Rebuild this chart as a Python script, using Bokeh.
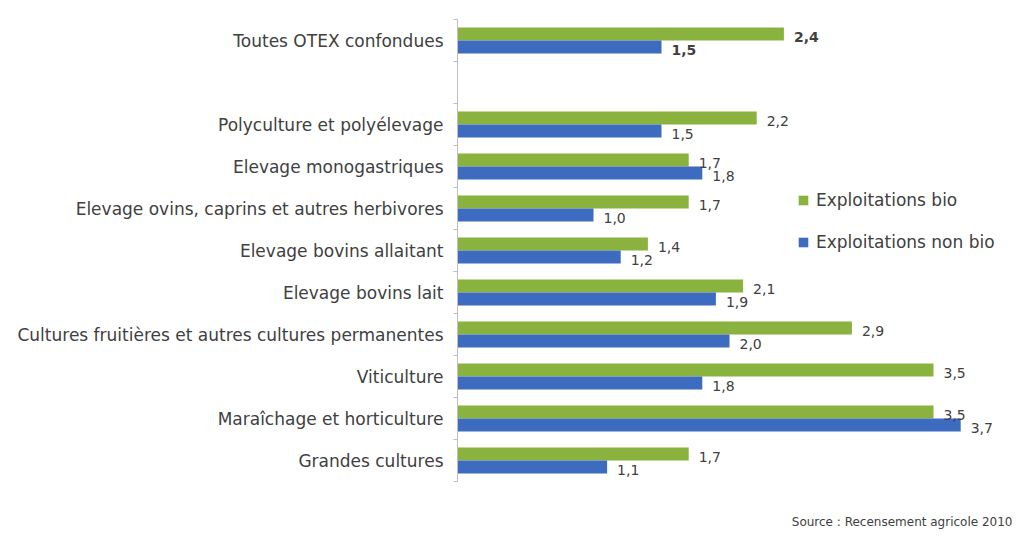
from bokeh.plotting import figure
from bokeh.models import (ColumnDataSource, FixedTicker, Legend, LegendItem, Label, Range1d)
from bokeh.core.properties import value
from bokeh.embed import file_html
from bokeh.resources import INLINE

# ---- data (top to bottom) ----
categories = ["Toutes OTEX confondues",
              "Polyculture et polyélevage",
              "Elevage monogastriques",
              "Elevage ovins, caprins et autres herbivores",
              "Elevage bovins allaitant",
              "Elevage bovins lait",
              "Cultures fruitières et autres cultures permanentes",
              "Viticulture",
              "Maraîchage et horticulture",
              "Grandes cultures"]
bio = [2.4, 2.2, 1.7, 1.7, 1.4, 2.1, 2.9, 3.5, 3.5, 1.7]
non_bio = [1.5, 1.5, 1.8, 1.0, 1.2, 1.9, 2.0, 1.8, 3.7, 1.1]
series_names = ["Exploitations bio", "Exploitations non bio"]
source_text = "Source : Recensement agricole 2010"

GREEN = "#8AB23E"
BLUE = "#3D6BBF"
TXT = "#404040"
FONT = "DejaVu Sans"

n = len(categories)
# first category separated by an empty row
pos = [n] + list(range(n - 2, -1, -1))

def fmt(v):
    return f"{v:.1f}".replace(".", ",")

off = 0.155
h = 0.31
src_bio = ColumnDataSource(dict(y=[p + off for p in pos], v=bio,
                                lab=[fmt(v) for v in bio],
                                style=["bold"] + ["normal"] * (n - 1)))
src_non = ColumnDataSource(dict(y=[p - off for p in pos], v=non_bio,
                                lab=[fmt(v) for v in non_bio],
                                style=["bold"] + ["normal"] * (n - 1)))

W, H = 1013, 531
left_b, top_b = 457, 19
px_x, px_y = 136.0, 42.0
x_end = (W - left_b) / px_x
y_top = n + 0.5
y_bot = y_top - (H - top_b) / px_y

p = figure(width=W, height=H, output_backend="svg", toolbar_location=None,
           x_range=Range1d(0, x_end), y_range=Range1d(y_bot, y_top),
           min_border_left=left_b, min_border_right=0, min_border_top=top_b,
           min_border_bottom=0)
p.outline_line_color = None
p.xgrid.visible = False
p.ygrid.visible = False
p.xaxis.visible = False

r_bio = p.hbar(y="y", left=0, right="v", height=h, source=src_bio,
               color=GREEN, line_color=None)
r_non = p.hbar(y="y", left=0, right="v", height=h, source=src_non,
               color=BLUE, line_color=None)

for src in (src_bio, src_non):
    p.text(x="v", y="y", text="lab", source=src, x_offset=10, y_offset=3,
           text_font=value(FONT), text_font_size="14px", text_color=TXT,
           text_font_style="style", text_baseline="middle", text_align="left")

yax = p.yaxis[0]
yax.bounds = (-0.5, n + 0.5)
yax.ticker = FixedTicker(ticks=pos, minor_ticks=[i - 0.5 for i in range(n + 2)])
yax.major_label_overrides = {pp: c for pp, c in zip(pos, categories)}
yax.major_label_text_font = FONT
yax.major_label_text_font_size = "17px"
yax.major_label_text_color = TXT
yax.major_tick_line_color = None
yax.major_label_standoff = 8
yax.minor_tick_out = 4
yax.minor_tick_in = 0
yax.minor_tick_line_color = "#BFBFBF"
yax.axis_line_color = "#BFBFBF"

legend = Legend(items=[LegendItem(label=series_names[0], renderers=[r_bio]),
                       LegendItem(label=series_names[1], renderers=[r_non])],
                location=(340, 279), orientation="vertical",
                glyph_width=12, glyph_height=12, label_standoff=7,
                label_text_font=FONT, label_text_font_size="17px",
                label_text_color=TXT, spacing=22, padding=0, margin=0,
                border_line_color=None, background_fill_alpha=0)
p.add_layout(legend, "center")

p.add_layout(Label(x=x_end, y=y_top - (521 - top_b) / px_y, text=source_text,
                   x_offset=-1, text_align="right", text_baseline="middle",
                   text_font=FONT, text_font_size="12px", text_color=TXT))

open("out.html", "w").write(file_html(p, INLINE))
